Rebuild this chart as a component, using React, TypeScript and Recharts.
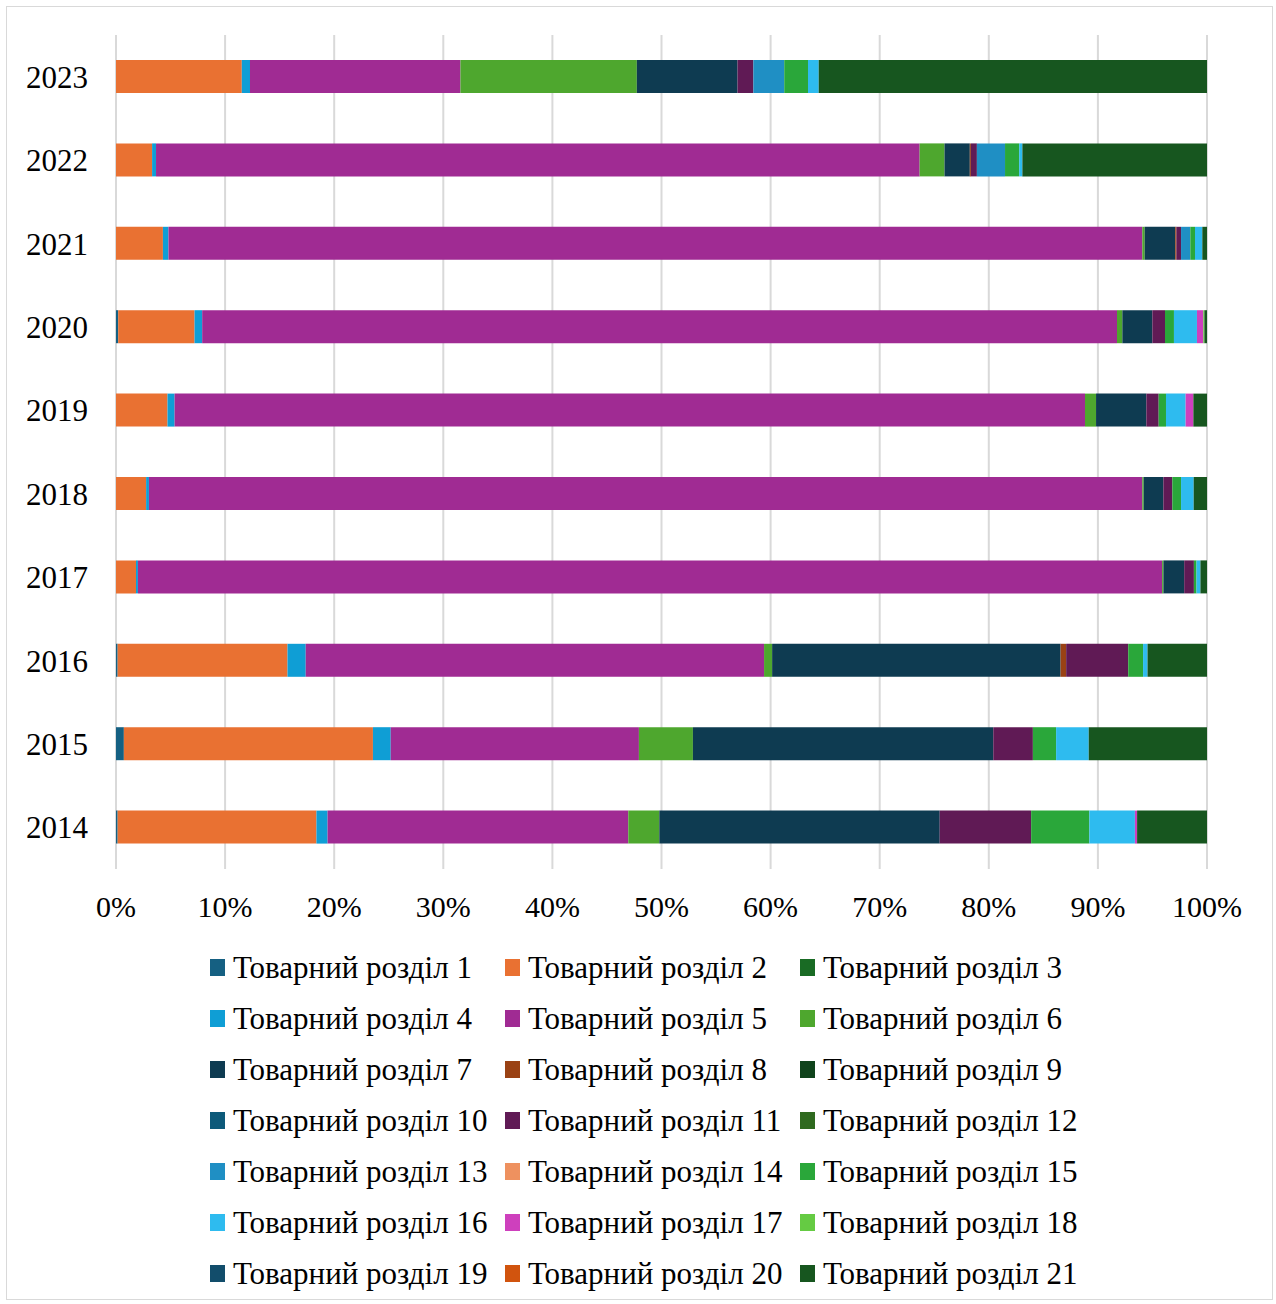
import { BarChart, Bar, XAxis, YAxis, CartesianGrid, Legend } from "recharts";

const years = ["2014", "2015", "2016", "2017", "2018", "2019", "2020", "2021", "2022", "2023"];

// shares by commodity section, % of the year total (2014 .. 2023)
const r1 = [0.15, 0.72, 0.15, 0, 0, 0, 0.2, 0, 0, 0];
const r2 = [18.2, 22.83, 15.57, 1.83, 2.76, 4.72, 7.0, 4.3, 3.31, 11.53];
const r3 = [0, 0, 0, 0, 0, 0, 0, 0, 0, 0];
const r4 = [1.02, 1.63, 1.67, 0.18, 0.26, 0.65, 0.7, 0.51, 0.36, 0.75];
const r5 = [27.53, 22.75, 42.01, 93.8, 91.05, 83.45, 83.87, 89.26, 70.02, 19.29];
const r6 = [2.84, 4.95, 0.74, 0.12, 0.13, 1.01, 0.49, 0.22, 2.28, 16.17];
const r7 = [25.67, 27.53, 26.44, 1.9, 1.8, 4.61, 2.75, 2.8, 2.32, 9.23];
const r8 = [0, 0, 0.51, 0, 0, 0, 0, 0.1, 0.1, 0];
const r9 = [0, 0, 0, 0, 0, 0, 0, 0, 0, 0];
const r10 = [0, 0, 0, 0, 0, 0, 0, 0, 0, 0];
const r11 = [8.37, 3.63, 5.69, 0.89, 0.82, 1.13, 1.16, 0.43, 0.55, 1.45];
const r12 = [0, 0, 0, 0, 0, 0, 0, 0, 0, 0];
const r13 = [0, 0, 0, 0, 0, 0, 0, 0.85, 2.58, 2.83];
const r14 = [0, 0, 0, 0, 0, 0, 0, 0, 0, 0];
const r15 = [5.33, 2.13, 1.36, 0.24, 0.8, 0.67, 0.82, 0.43, 1.3, 2.18];
const r16 = [4.17, 2.99, 0.41, 0.36, 1.16, 1.8, 2.11, 0.67, 0.29, 0.98];
const r17 = [0.2, 0, 0, 0, 0, 0.71, 0.58, 0, 0, 0];
const r18 = [0, 0, 0, 0, 0, 0, 0.1, 0, 0, 0];
const r19 = [0, 0, 0, 0, 0, 0, 0, 0, 0, 0];
const r20 = [0, 0, 0, 0, 0, 0, 0, 0, 0, 0];
const r21 = [6.4, 10.84, 5.45, 0.6, 1.22, 1.25, 0.24, 0.43, 16.93, 35.59];

const sectionValues = [r1, r2, r3, r4, r5, r6, r7, r8, r9, r10, r11, r12, r13, r14, r15, r16, r17, r18, r19, r20, r21];

const COLORS = [
  "#156082", "#E97132", "#196B24", "#0F9ED5", "#A02B93", "#4EA72E", "#0E3B51",
  "#9A4214", "#10441C", "#0D5A7A", "#601A55", "#2F6A1F", "#1F8FC4", "#EE915F",
  "#2AA73A", "#2EBBEF", "#CE40BD", "#65CB43", "#124D6B", "#D1540E", "#17561F",
];

const xTicks = [0, 0.1, 0.2, 0.3, 0.4, 0.5, 0.6, 0.7, 0.8, 0.9, 1];

const names = sectionValues.map((_, i) => `Товарний розділ ${i + 1}`);

const data = years.map((year, yi) => {
  const row: Record<string, string | number> = { year };
  sectionValues.forEach((vals, si) => {
    row[`s${si + 1}`] = vals[yi];
  });
  return row;
});

const FONT = '"Liberation Serif", "Times New Roman", serif';

function SectionLegend() {
  return (
    <div
      style={{
        display: "grid",
        gridTemplateColumns: "295px 295px 295px",
        paddingLeft: 203,
        fontFamily: FONT,
        fontSize: 31,
        color: "#000",
      }}
    >
      {names.map((name, i) => (
        <div key={name} style={{ display: "flex", alignItems: "center", height: 51, whiteSpace: "nowrap" }}>
          <span style={{ display: "inline-block", width: 15, height: 17, background: COLORS[i], marginRight: 8 }} />
          <span>{name}</span>
        </div>
      ))}
    </div>
  );
}

export default function App() {
  return (
    <div
      style={{
        position: "absolute",
        left: 6,
        top: 6,
        width: 1265,
        height: 1292,
        border: "1px solid #d9d9d9",
        background: "#fff",
      }}
    >
      <BarChart
        width={1265}
        height={1292}
        data={data}
        layout="vertical"
        stackOffset="expand"
        barSize={33}
        margin={{ top: 28, right: 65, bottom: 0, left: 0 }}
        style={{ fontFamily: FONT }}
      >
        <CartesianGrid horizontal={false} stroke="#d9d9d9" strokeWidth={2} />
        <XAxis
          type="number"
          domain={[0, 1]}
          ticks={xTicks}
          tickFormatter={(v: number) => `${Math.round(v * 100)}%`}
          axisLine={false}
          tickLine={false}
          tickSize={0}
          tickMargin={27}
          height={73}
          tick={{ fill: "#000", fontSize: 30, fontFamily: FONT }}
        />
        <YAxis
          type="category"
          dataKey="year"
          reversed
          width={109}
          axisLine={false}
          tickLine={false}
          tickSize={0}
          tickMargin={28}
          tick={{ fill: "#000", fontSize: 31, fontFamily: FONT }}
        />
        <Legend verticalAlign="bottom" content={() => <SectionLegend />} />
        {names.map((name, i) => (
          <Bar
            key={name}
            dataKey={`s${i + 1}`}
            name={name}
            stackId="a"
            fill={COLORS[i]}
            isAnimationActive={false}
          />
        ))}
      </BarChart>
    </div>
  );
}
